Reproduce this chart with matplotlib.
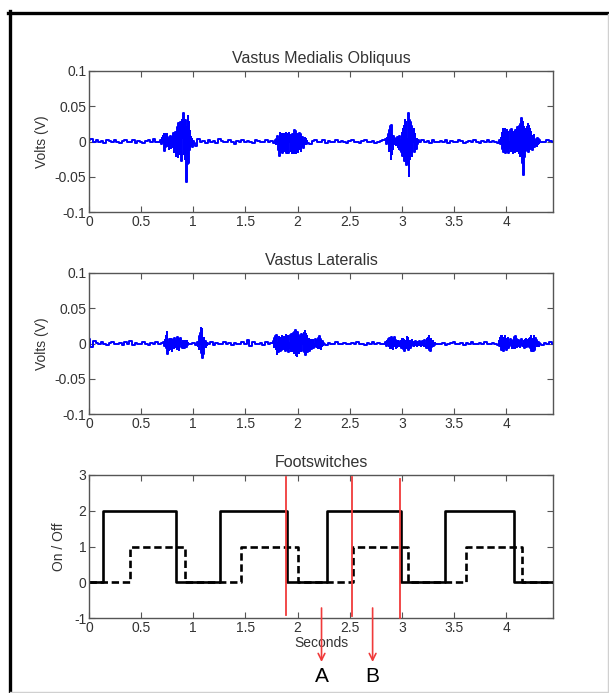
import numpy as np
import matplotlib.pyplot as plt
from matplotlib.lines import Line2D

plt.rcParams['font.family'] = ['Liberation Sans', 'DejaVu Sans']

# EMG, in mV: slow baseline every 25 ms, bursts every 5 ms
base_dt = 0.025
burst_dt = 0.005
t_end = 4.45

vmo_base = [
    2, 3, -1, 2, 0, 1, -2, 2, 1, -1, 2, 0, -2, 1, 2, -1, 0, 2, -2, 1,
    0, -2, 1, 2, -1, 3, 0, -1, 2, -2, 1, 0, 2, -1, -3, 1, 2, 0, -1, 1,
    0, -6, 3, -1, 1, -2, 2, 0, 1, -2, 3, 1, -1, 0, 2, -1, -3, 1, 0, 2,
    -1, 1, 0, -2, 2, 1, -1, 0, 2, -1, 1, -2, 0, 2, -1, 1, -2, 1, 0, 2,
    1, -1, 2, 0, -2, -4, 1, 2, -1, 0, 2, -2, 1, 0, -1, 2, -1, 1, 0, -2,
    1, 2, -1, 0, -2, 1, 2, 0, -1, 1, -2, 0, 1, 2, -1, 0, 2, -1, 1, 0,
    -1, 2, 0, 1, -2, 3, -1, 0, 2, -1, 1, -2, 2, 0, -1, 1, 0, 2, -2, 1,
    0, -1, 2, 1, -2, 0, 1, -1, 2, 0, -2, 1, 0, 2, -1, 1, 0, -2, 1, 2,
    -1, 0, 2, -1, 1, 0, -2, 1, 2, -1, 0, 3, -2, 4, 0, -1, 2, 1, -1,
]
vmo_bursts = [
    (0.69, [2, -3, 5, -1, 8, 0, 10, -13, 2, -8, 11, 1, 10, -7, 3, -10, 6, 0, 8, -9,
            2, -8, 7, -1, 12, -15, 3, -6, 14, -20,
            12, -2, 20, -22, 26, 0, 22, -18,
            28, -27, 30, 5, 34, 41, -18, 30,
            -25, 30, -3, -57, 20, -32, 36, -30,
            28, -12, 15, 0, 6, -7, 3, -8, 1, -2]),
    (1.79, [2, -3, 4, 0, 8, -12, 2, -20, 12, -15, 0, -10, 11, -17, 3, -6, 10, -14, 1, -12,
            12, -17, 2, -15, 10, -16, 12, 0, 9, -13,
            1, -17, 11, -2, 10, -16, 17, -9, 15, -17, 3, -11, 10, -15, 0, -10, 12, -8, 10, -14,
            2, -6, 7, -9, 1, -3, 5, -2, 3, -4, 1, -2]),
    (2.85, [3, -4, 5, 0, 10, -14, 16, -2, 22, -25, 24, -18, 2, -10, 8, 0, 5, -4,
            1, -5, 4, 0, 6, -8, 1, -10, 8, -12, 2, -15,
            12, -20, 18, 0, 22, -28, 30, -22, 28, -33, 3, -30, 35, 41, -49, 30,
            -25, 28, -2, 22, -20, 15, 0, 18, -15, 10, -8, 1, -10, 4, -3, 2]),
    (3.94, [2, -4, 5, 0, 12, -10, 18, -15, 2, -12, 18, -16, 1, -14, 17, -10, 14, -16, 0, -9,
            16, -13, 18, 1, 10, -17, 14, -2, 9, -15, 16, -10, 1, -14, 20, -12, 18, -16, 22, -20,
            25, -18, 33, -30, 28, -47, 20, -22,
            18, -14, 2, -12, 20, -10, 25, -15, 22, -1, 18, -10, 14, -9, 0, -12, 8, -6, 9, -8,
            1, -5, 4, -6, 5, -3, 3, -2, 2, -1]),
]

vl_base = [
    6, -5, 3, 1, -1, 2, 0, -2, 1, 2, 0, -1, 1, -2, 2, 0, 4, -2, 1, 0,
    -1, 2, 0, -2, 1, 0, 2, -1, 1, 0, -1, 2, 1, -2, 0, 1, -1, 2, 0, -1,
    1, -2, 0, 2, 1, -1, 0, 2, -2, 1, 0, -1, 2, 0, 1, -2, 1, 0, -1, 2,
    0, 5, -3, 2, -1, 0, 1, -2, 2, 0, 1, -1, 2, 0, -1, 1, -2, 0, 1, -1,
    1, 0, -1, 2, -2, 1, 0, 2, -1, 0, 1, -2, 1, 0, -1, 2, 0, -1, 1, 0,
    -1, 1, 0, 2, -1, 0, -2, 1, 0, 2, -1, 1, 0, -1, 2, 0, 1, -2, 0, 1,
    0, -1, 2, 0, 1, -1, 0, 2, -2, 1, 0, -1, 1, 2, -1, 0, 1, -2, 0, 1,
    2, -1, 0, 1, -2, 1, 0, 2, -1, 0, 1, -1, 2, 0, -1, 1, 0, -2, 1, 0,
    1, -1, 2, 0, -1, 1, 0, -2, 1, 2, 0, -1, 1, 0, -2, 1, 0, 2, -1,
]
vl_bursts = [
    (0.72, [2, -3, 5, 0, 10, -6, 16, -15, 1, -9, 6, -8, 0, -5, 7, -10, 1, -4, 5, -7,
            8, 0, 4, -5, 1, -8, 9, -4, 0, -9, 7, -1, 8, -5, 1, -7, 4, -3, 0, -6,
            3, -4, 0, -5, 3, -2, 1, -1]),
    (1.04, [2, -4, 1, -8, 10, 0, 15, 22, -14, 20, -20, 1, -15, 8, 0, 4, -5, 1, -2, 1]),
    (1.77, [3, -5, 8, 0, 11, -8, 12, -15, 1, -12, 9, 0, 8, -10, 1, -9, 11, -7, 0, -8,
            9, -1, 7, -11, 12, 0, 6, -9, 10, -12, 1, -7, 12, -10, 14, 0, 12, -11, 15, -13,
            17, -1, 19, -16, 14, -18, 16, 0, 12, -14, 1, -8, 9, -11, 13, 0, 12, -10, 15, -12,
            18, -17, 14, 0, 10, -12, 1, -8, 7, -10, 0, -6, 5, -8, 1, -4, 5, -6, 0, -5,
            6, -3, 1, -5, 5, -7, 8, 0, 10, -6, 7, -8, 1, -3, 4, -2, 1, -1]),
    (2.85, [2, -3, 4, 0, 6, -4, 8, -6, 1, -7, 9, -5, 0, -8, 7, -4, 9, 0, 5, -7,
            1, -5, 4, 0, 3, -4, 1, -3, 4, -6, 7, 0, 6, -8, 5, -10, 1, -6, 4, -5,
            9, -7, 8, -9, 0, -5, 4, -6, 1, -4, 5, 0, 2, -3, 1, -2, 3, 0, 2, -3,
            1, -2, 2, 0, 3, -2, 1, -3, 2, 0, 3, -2, 1, -3, 5, -4, 0, -6, 6, -5,
            8, -7, 10, -9, 1, -10, 6, -5, 0, -3, 3, -4, 1, -2, 1, -1]),
    (3.93, [3, -4, 8, 0, 11, -9, 10, -7, 1, -11, 8, -6, 10, 0, 7, -9, 1, -5, 8, -7,
            1, -4, 6, 0, 4, -6, 1, -4, 5, -6, 9, -7, 10, 0, 6, -5, 1, -3, 5, -4,
            0, -5, 4, -1, 6, -4, 0, -2, 4, -6, 5, 0, 6, -5, 1, -3, 5, -4, 6, -5,
            8, -7, 10, -10, 1, -8, 7, -11, 10, -9, 8, 0, 5, -4, 1, -2, 2, -3, 1, -1]),
]

# footswitch edges (s)
heel_on = [0.137, 1.257, 2.286, 3.41]
heel_off = [0.83, 1.896, 2.99, 4.077]
toe_on = [0.393, 1.458, 2.535, 3.62]
toe_off = [0.92, 2.0, 3.057, 4.15]
heel_level = 2
toe_level = 1

# red annotations
marker_x = [1.887, 2.52, 2.98]
marker_lo = [-0.92, -0.94, -1.0]
marker_hi = [2.94, 2.94, 2.89]
arrow_x = [2.23, 2.72]
arrow_labels = ["A", "B"]


def emg_trace(base, bursts):
    t = np.arange(len(base)) * base_dt
    v = np.array(base, dtype=float)
    keep = np.ones(len(t), bool)
    ts, vs = [], []
    for t0, vals in bursts:
        tb = t0 + np.arange(len(vals)) * burst_dt
        keep &= ~((t >= tb[0] - 1e-9) & (t <= tb[-1] + 1e-9))
        ts.append(tb)
        vs.append(np.array(vals, dtype=float))
    ts.append(t[keep])
    vs.append(v[keep])
    t = np.concatenate(ts)
    v = np.concatenate(vs)
    order = np.argsort(t)
    return t[order], v[order] / 1000.0


def steps(on, off, level):
    x, y = [0], [0]
    for a, b in zip(on, off):
        x += [a, a, b, b]
        y += [0, level, level, 0]
    x.append(t_end)
    y.append(0)
    return x, y


grey = '#555555'
txt = '#333333'


def style(ax, yticks):
    ax.set_xlim(0, t_end)
    xt = np.arange(0, 4.01, 0.5)
    ax.set_xticks(xt, labels=[f"{v:g}" for v in xt])
    ax.set_yticks(yticks, labels=[f"{v:g}" for v in yticks])
    ax.set_ylim(yticks[0], yticks[-1])
    ax.tick_params(direction='in', top=True, right=True, length=4, width=0.8,
                   color=grey, labelcolor=txt, labelsize=10, pad=2)
    for s in ax.spines.values():
        s.set_color(grey)
        s.set_linewidth(1.0)


fig = plt.figure(figsize=(6.09, 6.93), dpi=100)
left, width = 89 / 609, 464 / 609
ax1 = fig.add_axes([left, 1 - 212 / 693, width, 141 / 693])
ax2 = fig.add_axes([left, 1 - 414 / 693, width, 141 / 693])
ax3 = fig.add_axes([left, 1 - 618 / 693, width, 143 / 693])

volt_ticks = [-0.1, -0.05, 0, 0.05, 0.1]
for ax, (base, bursts), title in [(ax1, (vmo_base, vmo_bursts), "Vastus Medialis Obliquus"),
                                  (ax2, (vl_base, vl_bursts), "Vastus Lateralis")]:
    t, v = emg_trace(base, bursts)
    ax.plot(t, v, color='blue', lw=1.4, drawstyle='steps-mid')
    style(ax, volt_ticks)
    ax.set_title(title, fontsize=11.5, color=txt, pad=6)
    ax.set_ylabel("Volts (V)", fontsize=10, color=txt, labelpad=4)

hx, hy = steps(heel_on, heel_off, heel_level)
tx, ty = steps(toe_on, toe_off, toe_level)
ax3.plot(hx, hy, color='black', lw=1.9)
ax3.plot(tx, ty, color='black', lw=1.9, linestyle=(0, (2.8, 1.4)))
style(ax3, [-1, 0, 1, 2, 3])
ax3.set_title("Footswitches", fontsize=11.5, color=txt, pad=6)
ax3.set_ylabel("On / Off", fontsize=10, color=txt, labelpad=6)
ax3.set_xlabel("Seconds", fontsize=10, color=txt, labelpad=1)

red = '#f03a3a'
for x, lo, hi in zip(marker_x, marker_lo, marker_hi):
    ax3.plot([x, x], [lo, hi], color=red, lw=1.3, clip_on=False, zorder=5)
for x, lab in zip(arrow_x, arrow_labels):
    ax3.annotate('', xy=(x, -2.23), xytext=(x, -0.72), annotation_clip=False,
                 arrowprops=dict(arrowstyle='->', color=red, lw=1.2,
                                 mutation_scale=12, shrinkA=0, shrinkB=0))
    ax3.text(x, -2.65, lab, ha='center', va='center', fontsize=15, color='black')

# frame around the whole figure (thick black left/top, faint grey right/bottom)
fig.add_artist(Line2D([9.5 / 609, 9.5 / 609], [0, 1 - 11 / 693], color='black', lw=2.4,
                      transform=fig.transFigure))
fig.add_artist(Line2D([8 / 609, 1], [1 - 13 / 693, 1 - 13 / 693], color='black', lw=2.4,
                      transform=fig.transFigure))
fig.add_artist(Line2D([607.5 / 609, 607.5 / 609], [0, 1 - 14 / 693], color='#d0d0d0', lw=1,
                      transform=fig.transFigure))
fig.add_artist(Line2D([10 / 609, 1], [1.5 / 693, 1.5 / 693], color='#d0d0d0', lw=1,
                      transform=fig.transFigure))

fig.savefig("out.png", dpi=100)
